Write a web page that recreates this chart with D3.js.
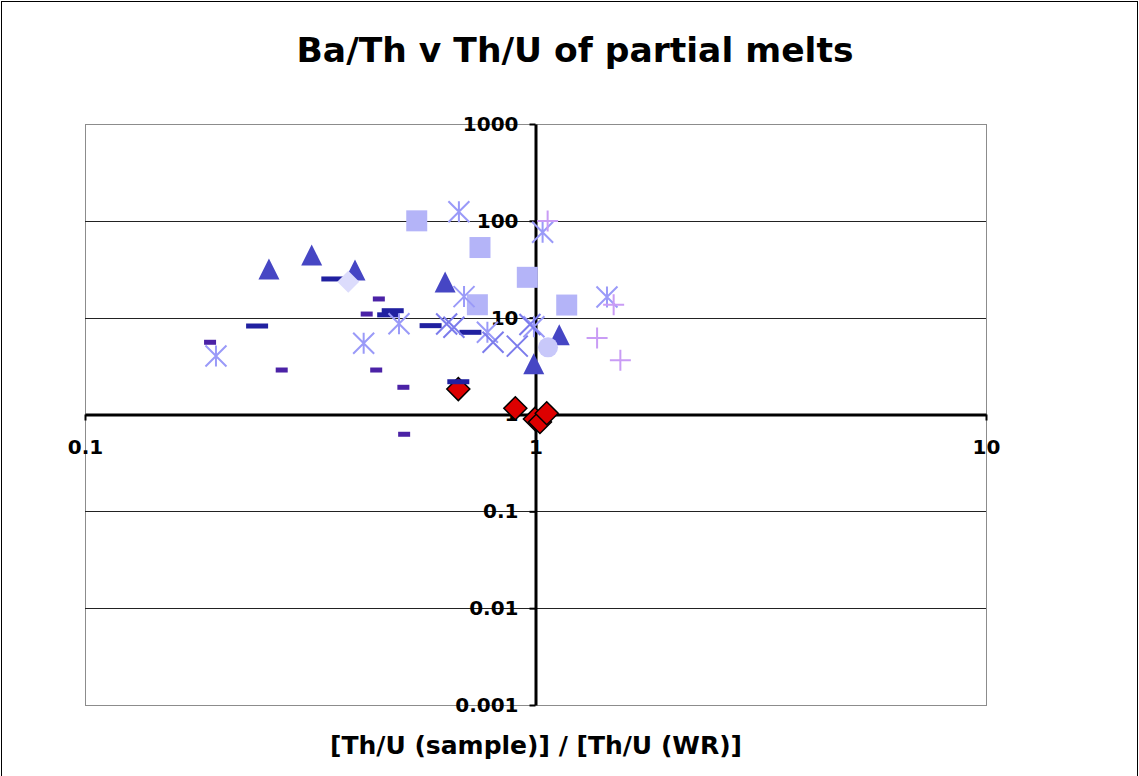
<!DOCTYPE html>
<html>
<head>
<meta charset="utf-8">
<script src="https://cdn.jsdelivr.net/npm/d3@7"></script>
<style>
  html, body { margin: 0; padding: 0; background: #fff; }
  svg { display: block; font-family: "DejaVu Sans", Verdana, sans-serif; }
</style>
</head>
<body>
<svg id="chart" width="1139" height="776"></svg>
<script>
// Ba/Th against Th/U, both normalised, for the partial-melt samples
const xTickValues = [0.1, 1, 10];
const xTickLabels = ["0.1", "1", "10"];
const yTickValues = [0.001, 0.01, 0.1, 1, 10, 100, 1000];
const yTickLabels = ["0.001", "0.01", "0.1", "1", "10", "100", "1000"];

const redDiamondX = [0.674, 0.902, 0.997, 1.023, 1.059];
const redDiamondY = [1.83, 1.16, 0.90, 0.837, 1.03];

const navyDashX = [0.354, 0.241, 0.482, 0.471, 0.585, 0.717, 0.674];
const navyDashY = [25.1, 8.2, 11.8, 10.7, 8.27, 7.06, 2.18];

const purpleDashX = [0.1895, 0.2733, 0.449, 0.422, 0.443, 0.509, 0.511];
const purpleDashY = [5.57, 2.88, 15.6, 10.9, 2.88, 1.91, 0.625];

const triangleX = [0.256, 0.3186, 0.3975, 0.630, 0.991, 1.129];
const triangleY = [31.8, 44.4, 31.1, 23.4, 3.35, 6.67];

const squareX = [0.545, 0.753, 0.743, 0.959, 1.173];
const squareY = [100, 53, 13.6, 26.1, 13.5];

const paleDiamondX = [0.384];
const paleDiamondY = [23.5];

const circleX = [1.066];
const circleY = [4.94];

const starX = [0.1953, 0.4155, 0.4977, 0.676, 0.694, 0.782, 1.037, 1.441, 0.992];
const starY = [4.02, 5.44, 8.67, 124, 16.5, 7.06, 76.2, 16.35, 8.07];

const crossX = [0.635, 0.659, 0.805, 0.911, 0.972];
const crossY = [8.6, 7.95, 5.57, 5.08, 8.5];

const plusX = [1.064, 1.491, 1.37, 1.543];
const plusY = [99.6, 13.6, 6.17, 3.63];

const svg = d3.select("#chart");
const W = 1139, H = 776;
const plot = { left: 85, right: 986, top: 124, bottom: 705 };

const x = d3.scaleLog().domain([0.1, 10]).range([plot.left, plot.right]);
const y = d3.scaleLog().domain([0.001, 1000]).range([plot.bottom, plot.top]);

// chart frame
svg.append("rect").attr("x", 1.5).attr("y", 1.5).attr("width", W - 3).attr("height", H + 10)
  .attr("fill", "#fff").attr("stroke", "#000").attr("stroke-width", 1);

// title
svg.append("text").attr("x", 575).attr("y", 62).attr("text-anchor", "middle")
  .attr("font-size", 34.5).attr("font-weight", "bold").text("Ba/Th v Th/U of partial melts");

// plot area border
svg.append("rect").attr("x", plot.left + 0.5).attr("y", plot.top + 0.5)
  .attr("width", plot.right - plot.left).attr("height", plot.bottom - plot.top)
  .attr("fill", "none").attr("stroke", "#8c8c8c").attr("stroke-width", 1);

// horizontal gridlines
svg.append("g").selectAll("line").data(yTickValues.filter(v => v !== 1 && v !== 0.001 && v !== 1000))
  .join("line")
  .attr("x1", plot.left).attr("x2", plot.right)
  .attr("y1", d => Math.round(y(d)) + 0.5).attr("y2", d => Math.round(y(d)) + 0.5)
  .attr("stroke", "#222").attr("stroke-width", 1);

// axes crossing at (1, 1)
const x0 = x(1), y0 = y(1);
const yAxis = d3.axisLeft(y).tickValues(yTickValues)
  .tickFormat((d, i) => yTickLabels[i]).tickSize(6).tickSizeOuter(0);
const gy = svg.append("g").attr("transform", `translate(${x0},0)`).call(yAxis);
gy.select(".domain").attr("stroke", "#000").attr("stroke-width", 3);
gy.selectAll(".tick line").attr("stroke", "#000").attr("stroke-width", 2);
gy.selectAll(".tick text").attr("font-size", 20).attr("font-weight", "bold")
  .attr("font-family", "DejaVu Sans, Verdana, sans-serif").attr("fill", "#000").attr("x", -17);

const xAxis = d3.axisBottom(x).tickValues(xTickValues)
  .tickFormat((d, i) => xTickLabels[i]).tickSize(6).tickSizeOuter(0);
const gx = svg.append("g").attr("transform", `translate(0,${y0})`).call(xAxis);
gx.select(".domain").attr("stroke", "#000").attr("stroke-width", 3);
gx.selectAll(".tick line").attr("stroke", "#000").attr("stroke-width", 2);
gx.selectAll(".tick text").attr("font-size", 20).attr("font-weight", "bold")
  .attr("font-family", "DejaVu Sans, Verdana, sans-serif").attr("fill", "#000").attr("y", 25);

// x-axis title
svg.append("text").attr("x", 536).attr("y", 754).attr("text-anchor", "middle")
  .attr("font-size", 25).attr("font-weight", "bold").text("[Th/U (sample)] / [Th/U (WR)]");

// marker shapes
const shapes = {
  diamond: s => `M0,${-s/2}L${s/2},0L0,${s/2}L${-s/2},0Z`,
  triangle: s => `M0,${-s/2}L${s/2},${s/2}L${-s/2},${s/2}Z`,
  square: s => `M${-s/2},${-s/2}h${s}v${s}h${-s}Z`,
  circle: s => `M${s/2},0A${s/2},${s/2} 0 1,1 ${-s/2},0A${s/2},${s/2} 0 1,1 ${s/2},0Z`,
  star: s => { const r = s/2; return `M${-r},${-r}L${r},${r}M${r},${-r}L${-r},${r}M0,${-r}L0,${r}`; },
  cross: s => { const r = s/2; return `M${-r},${-r}L${r},${r}M${r},${-r}L${-r},${r}`; },
  plus: s => { const r = s/2; return `M${-r},0L${r},0M0,${-r}L0,${r}`; }
};

const marks = svg.append("g");

function points(xs, ys) { return xs.map((v, i) => ({ x: v, y: ys[i] })); }

function drawShape(data, shape, size, fill, stroke, strokeWidth) {
  marks.append("g").selectAll("path").data(data).join("path")
    .attr("transform", d => `translate(${x(d.x)},${y(d.y)})`)
    .attr("d", shapes[shape](size))
    .attr("fill", fill).attr("stroke", stroke).attr("stroke-width", strokeWidth);
}

function drawDash(data, w, h, fill) {
  marks.append("g").selectAll("rect").data(data).join("rect")
    .attr("x", d => x(d.x) - w / 2).attr("y", d => y(d.y) - h / 2)
    .attr("width", w).attr("height", h).attr("fill", fill);
}

drawShape(points(redDiamondX, redDiamondY), "diamond", 23, "#dd0000", "#000", 1.5);
drawDash(points(navyDashX, navyDashY), 22, 5, "#2020a0");
drawDash(points(purpleDashX, purpleDashY), 12, 5, "#4b22a6");
drawShape(points(triangleX, triangleY), "triangle", 21, "#4646c4", "none", 0);
drawShape(points(squareX, squareY), "square", 21, "#b4b4f8", "none", 0);
drawShape(points(paleDiamondX, paleDiamondY), "diamond", 22, "#dcdcfc", "none", 0);
drawShape(points(circleX, circleY), "circle", 20, "#c8c8fa", "none", 0);
drawShape(points(starX, starY), "star", 21, "none", "#9a9af8", 2);
drawShape(points(crossX, crossY), "cross", 21, "none", "#7c7cec", 2);
drawShape(points(plusX, plusY), "plus", 21, "none", "#c99cf5", 2);
</script>
</body>
</html>
